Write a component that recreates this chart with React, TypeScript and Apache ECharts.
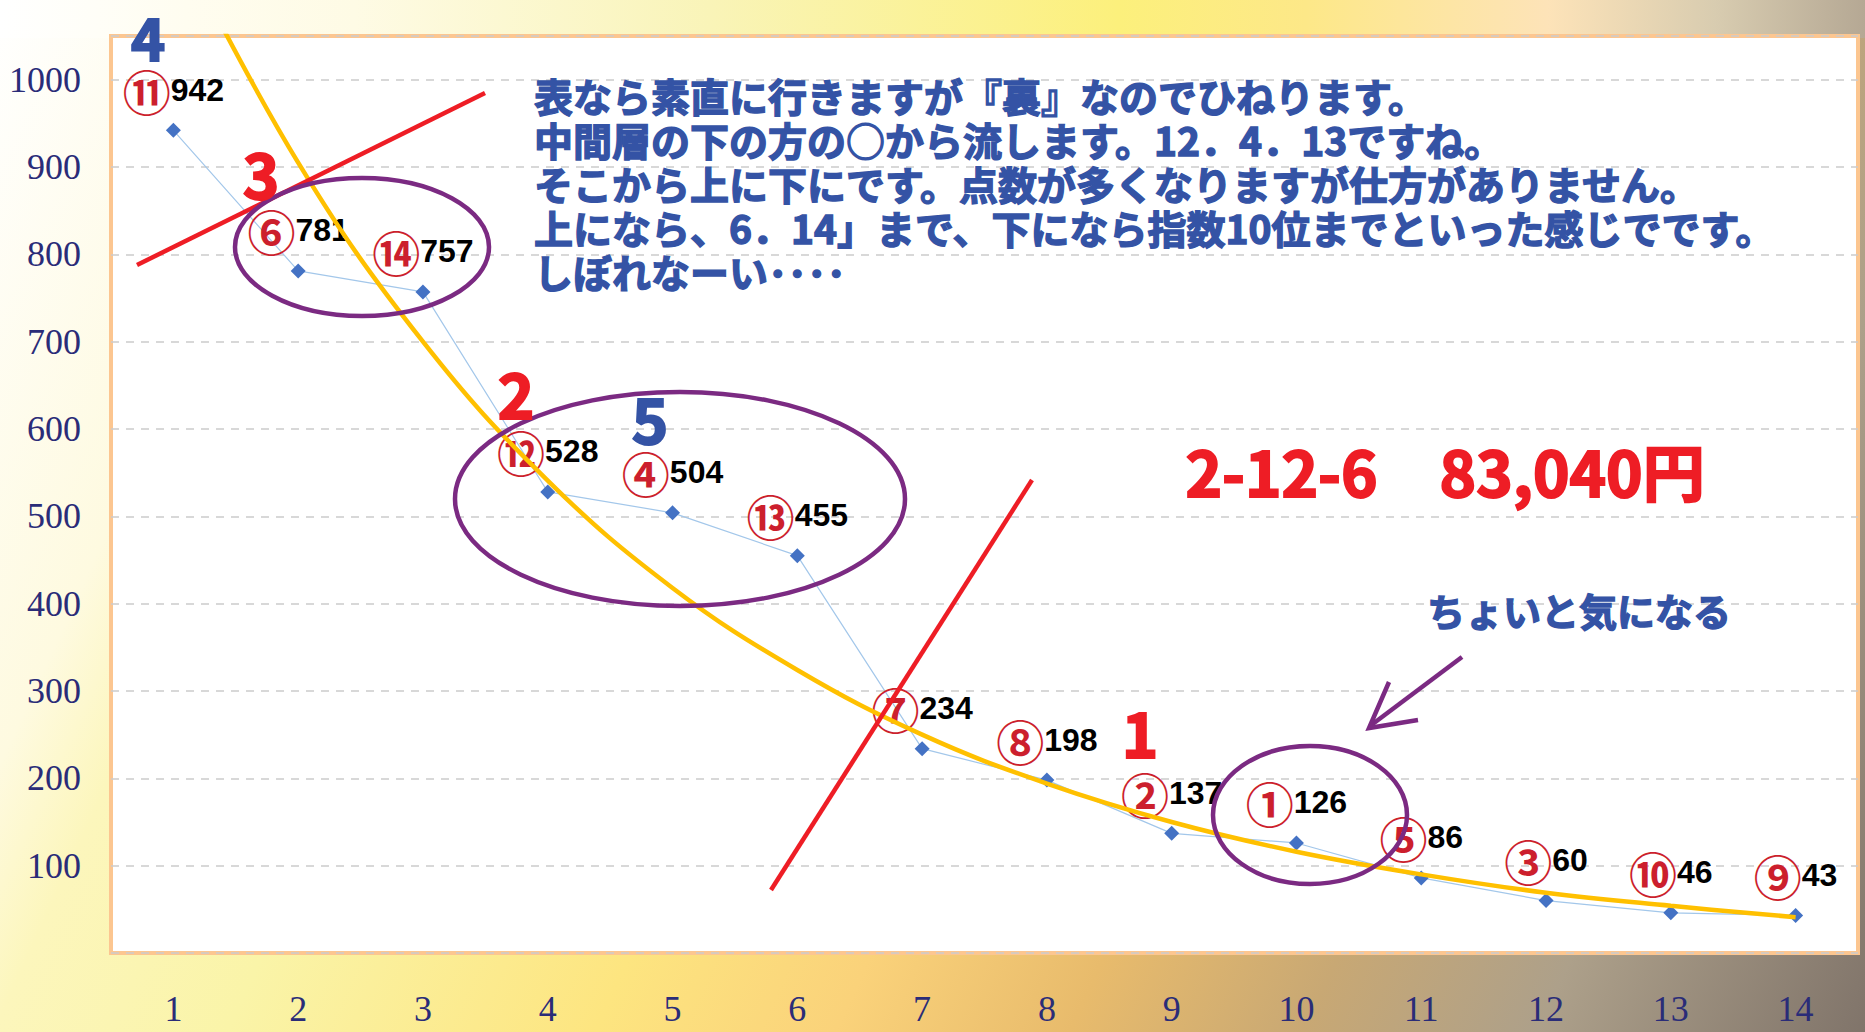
import React, { useEffect, useRef } from "react";
import * as echarts from "echarts";

const categories = ["1", "2", "3", "4", "5", "6", "7", "8", "9", "10", "11", "12", "13", "14"];
const values = [942, 781, 757, 528, 504, 455, 234, 198, 137, 126, 86, 60, 46, 43];
const horseNumbers = ["⑪", "⑥", "⑭", "⑫", "④", "⑬", "⑦", "⑧", "②", "①", "⑤", "③", "⑩", "⑨"];
// exponential trend line, values at each category
const trendValues = [1169, 905, 700, 541, 418, 324, 250, 194, 150, 116, 90, 69, 54, 41];
const yMin = 0;
const yMax = 1050;
const yInterval = 100;

const noteLines = [
  "表なら素直に行きますが『裏』なのでひねります。",
  "中間層の下の方の○から流します。12．4．13ですね。",
  "そこから上に下にです。点数が多くなりますが仕方がありません。",
  "上になら、6．14」まで、下になら指数10位までといった感じでです。",
  "しぼれなーい････",
];
const resultText = "2-12-6　83,040円";
const remarkText = "ちょいと気になる";

const BLUE = "#3453a5";
const RED = "#ee1d25";
const PURPLE = "#7b2a82";
const JP = "'Noto Sans CJK JP', 'Noto Sans', sans-serif";

function bigNum(text: string, x: number, y: number, color: string, size = 62) {
  return {
    type: "text",
    z: 100,
    x,
    y,
    style: {
      text,
      fontSize: size,
      fontWeight: "bold",
      fontFamily: JP,
      fill: color,
      stroke: color,
      lineWidth: 2,
      textAlign: "center",
      textVerticalAlign: "middle",
    },
  };
}

export default function App() {
  const ref = useRef<HTMLDivElement>(null);

  useEffect(() => {
    if (!ref.current) return;
    const chart = echarts.init(ref.current, undefined, { renderer: "svg" });

    const option: any = {
      animation: false,
      grid: {
        left: 111,
        right: 7,
        top: 36,
        bottom: 79,
        show: true,
        backgroundColor: "#ffffff",
        borderColor: "#fcc690",
        borderWidth: 4,
      },
      xAxis: {
        type: "category",
        data: categories,
        boundaryGap: true,
        axisLine: { show: false },
        axisTick: { show: false },
        splitLine: { show: false },
        axisLabel: {
          margin: 38,
          fontSize: 36,
          fontFamily: "'Liberation Serif', 'Times New Roman', serif",
          color: "#2a2c78",
        },
      },
      yAxis: {
        type: "value",
        min: yMin,
        max: yMax,
        interval: yInterval,
        axisLine: { show: false },
        axisTick: { show: false },
        axisLabel: {
          margin: 30,
          fontSize: 36,
          fontFamily: "'Liberation Serif', 'Times New Roman', serif",
          color: "#2a2c78",
          showMinLabel: false,
          showMaxLabel: false,
          formatter: (v: number) => String(v),
        },
        splitLine: {
          show: true,
          lineStyle: { color: "#cccccc", width: 1.5, type: [8, 7] },
        },
      },
      series: [
        {
          type: "line",
          data: values,
          z: 2,
          symbol: "diamond",
          symbolSize: 15,
          itemStyle: { color: "#4472c4" },
          lineStyle: { color: "#a3c7ea", width: 1.2 },
          label: {
            show: true,
            position: "top",
            distance: 10,
            formatter: (p: any) => `{c|${horseNumbers[p.dataIndex]}}{v|${p.value}}`,
            rich: {
              c: {
                fontFamily: JP,
                fontSize: 48,
                fontWeight: "bold",
                color: "#cc1f2d",
                verticalAlign: "middle",
                lineHeight: 46,
              },
              v: {
                fontFamily: "'Liberation Sans', Arial, sans-serif",
                fontWeight: "bold",
                fontSize: 32,
                color: "#000000",
                verticalAlign: "middle",
                lineHeight: 46,
              },
            },
          },
        },
        {
          type: "line",
          data: trendValues,
          z: 3,
          smooth: 0.4,
          showSymbol: false,
          symbol: "none",
          silent: true,
          lineStyle: { color: "#ffc000", width: 4.5 },
        },
      ],
      graphic: {
        elements: [
          { type: "line", z: 100, shape: { x1: 137, y1: 265, x2: 485, y2: 93 }, style: { stroke: RED, lineWidth: 4.5 } },
          { type: "line", z: 100, shape: { x1: 771, y1: 890, x2: 1032, y2: 480 }, style: { stroke: RED, lineWidth: 4.5 } },
          { type: "ellipse", z: 100, shape: { cx: 362, cy: 247, rx: 127, ry: 69 }, style: { fill: "none", stroke: PURPLE, lineWidth: 4.5 } },
          { type: "ellipse", z: 100, shape: { cx: 680, cy: 499, rx: 225, ry: 107 }, style: { fill: "none", stroke: PURPLE, lineWidth: 4.5 } },
          { type: "ellipse", z: 100, shape: { cx: 1310, cy: 815, rx: 97, ry: 69 }, style: { fill: "none", stroke: PURPLE, lineWidth: 4.5 } },
          { type: "polyline", z: 100, shape: { points: [[1462, 657], [1370, 726]] }, style: { stroke: PURPLE, lineWidth: 4.5, fill: "none" } },
          { type: "polyline", z: 100, shape: { points: [[1389, 682], [1369, 728], [1418, 720]] }, style: { stroke: PURPLE, lineWidth: 4.5, fill: "none" } },
          bigNum("4", 148, 36, BLUE, 58),
          bigNum("3", 261, 172, RED),
          bigNum("2", 516, 392, RED),
          bigNum("5", 650, 417, BLUE),
          bigNum("1", 1140, 731, RED),
          {
            type: "text",
            z: 100,
            x: 534,
            y: 73,
            style: {
              text: noteLines.join("\n"),
              fontSize: 39,
              lineHeight: 44,
              fontWeight: "bold",
              fontFamily: JP,
              fill: BLUE,
              stroke: BLUE,
              lineWidth: 1.4,
              textAlign: "left",
              textVerticalAlign: "top",
            },
          },
          {
            type: "text",
            z: 100,
            x: 1445,
            y: 470,
            style: {
              text: resultText,
              fontSize: 62,
              fontWeight: "bold",
              fontFamily: JP,
              fill: RED,
              stroke: RED,
              lineWidth: 2,
              textAlign: "center",
              textVerticalAlign: "middle",
            },
          },
          {
            type: "text",
            z: 100,
            x: 1579,
            y: 609,
            style: {
              text: remarkText,
              fontSize: 38,
              fontWeight: "bold",
              fontFamily: JP,
              fill: BLUE,
              stroke: BLUE,
              lineWidth: 1.4,
              textAlign: "center",
              textVerticalAlign: "middle",
            },
          },
        ],
      },
    };

    chart.setOption(option);
    return () => chart.dispose();
  }, []);

  const background =
    "linear-gradient(to right, #ffffff 0%, #fffdf0 10%, #fefbe5 19%, #f9f4b8 38%, #fcf07c 60%, #fde888 70%, #fde3b8 83%, #d8ccb0 92%, #b5a894 100%) top left / 100% 38px no-repeat, " +
    "linear-gradient(114.7deg, #ffffff 0%, #fefae0 15%, #fcf6bc 20%, #faf4a8 30%, #fde580 45.7%, #fad27a 56%, #e8bb6c 66%, #c8a874 76%, #ada08a 86%, #80746a 100%)";

  return (
    <div
      ref={ref}
      style={{ position: "fixed", left: 0, top: 0, width: 1865, height: 1032, background }}
    />
  );
}
